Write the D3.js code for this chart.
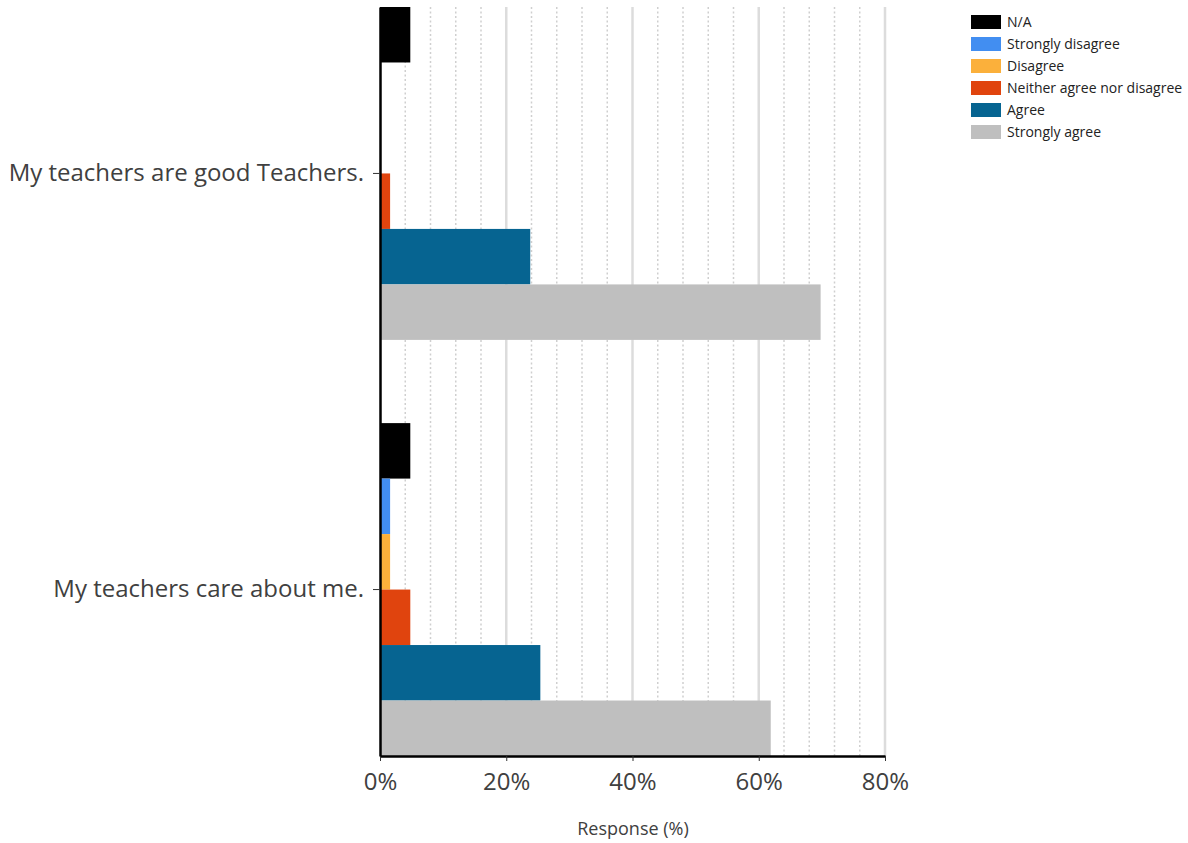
<!DOCTYPE html>
<html><head><meta charset="utf-8">
<script src="https://cdn.jsdelivr.net/npm/d3@7"></script>
<style>body{margin:0;background:#fff}svg{display:block;font-family:"Open Sans",sans-serif}</style>
</head><body><svg id="c" width="1188" height="843"></svg>
<script>
const categories = ["My teachers are good Teachers.", "My teachers care about me."];
const series = ["N/A", "Strongly disagree", "Disagree", "Neither agree nor disagree", "Agree", "Strongly agree"];
const colors = ["#000000", "#428ef1", "#fbb03b", "#e0440e", "#066491", "#bfbfbf"];
const valuesGood = [4.8, 0, 0, 1.6, 23.8, 69.8];
const valuesCare = [4.8, 1.6, 1.6, 4.8, 25.4, 61.9];
const tickValues = [0, 20, 40, 60, 80];

const data = [valuesGood, valuesCare];
const svg = d3.select("#c");
const x = d3.scaleLinear().domain([0, 80]).range([380, 885]);
const y0 = d3.scaleBand().domain(categories).range([7, 756]).paddingInner(0.2).paddingOuter(0);
const y1 = d3.scaleBand().domain(series).range([0, y0.bandwidth()]);

// gridlines
const minor = d3.range(4, 80, 4).filter(v => v % 20 !== 0);
svg.append("g").selectAll("line").data(minor).join("line")
  .attr("x1", d => x(d)).attr("x2", d => x(d)).attr("y1", 7).attr("y2", 756)
  .attr("stroke", "#cfcfcf").attr("stroke-width", 1.5).attr("stroke-dasharray", "2,2.5");
svg.append("g").selectAll("line").data(tickValues.slice(1)).join("line")
  .attr("x1", d => x(d)).attr("x2", d => x(d)).attr("y1", 7).attr("y2", 756)
  .attr("stroke", "#dcdcdc").attr("stroke-width", 2.5);

// bars
categories.forEach((c, ci) => {
  svg.append("g").selectAll("rect").data(series).join("rect")
    .attr("x", x(0)).attr("y", s => y0(c) + y1(s))
    .attr("width", (s, i) => x(data[ci][i]) - x(0))
    .attr("height", y1.bandwidth())
    .attr("fill", (s, i) => colors[i]);
});

// axes
const xa = svg.append("g").attr("transform", "translate(0,756)")
  .call(d3.axisBottom(x).tickValues(tickValues).tickFormat(d => d + "%").tickSize(5).tickSizeOuter(0));
xa.select(".domain").attr("stroke", "#000").attr("stroke-width", 2.5);
xa.selectAll(".tick line").attr("stroke", "#333");
xa.selectAll("text").attr("font-size", 24).attr("fill", "#404040").attr("dy", "1.1em").attr("font-family", "Open Sans");

const ya = svg.append("g").attr("transform", "translate(380,0)")
  .call(d3.axisLeft(y0).tickSize(7).tickSizeOuter(0));
ya.select(".domain").attr("stroke", "#000").attr("stroke-width", 2.5);
ya.selectAll(".tick line").attr("stroke", "#333");
ya.selectAll("text").attr("font-size", 24).attr("fill", "#404040").attr("x", -16).attr("font-family", "Open Sans");

svg.append("text").attr("x", 633).attr("y", 835).attr("text-anchor", "middle")
  .attr("font-size", 18).attr("fill", "#404040").text("Response (%)");

// legend
const lg = svg.append("g").attr("transform", "translate(971,15)");
const items = lg.selectAll("g").data(series).join("g").attr("transform", (d, i) => `translate(0,${i * 22})`);
items.append("rect").attr("width", 30).attr("height", 14).attr("fill", (d, i) => colors[i]);
items.append("text").attr("x", 36).attr("y", 12).attr("font-size", 14).attr("fill", "#222").text(d => d);
</script></body></html>
